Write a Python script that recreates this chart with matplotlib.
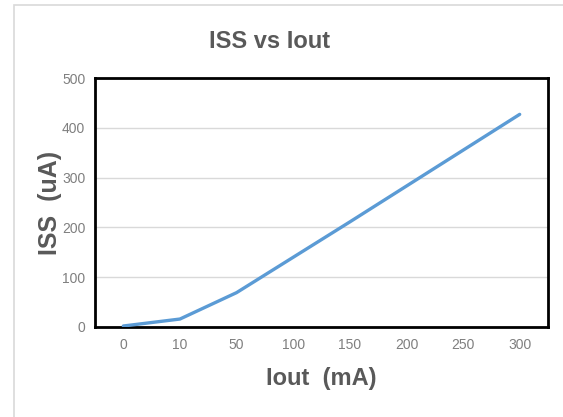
import matplotlib.pyplot as plt
from matplotlib.patches import Rectangle

# data
iout_labels = ['0', '10', '50', '100', '150', '200', '250', '300']
iss_values = [2, 16, 69, 140, 211, 283, 355, 427]
y_ticks = [0, 100, 200, 300, 400, 500]

plt.rcParams['font.family'] = ['Liberation Sans Narrow', 'Liberation Sans', 'DejaVu Sans']

fig = plt.figure(figsize=(5.63, 4.17), dpi=100)
fig.patch.set_facecolor('white')

# light gray outer chart border
fig.patches.append(Rectangle((14 / 563, -0.05), 1.0, 1.0 - 5 / 417 + 0.05,
                             transform=fig.transFigure, fill=False,
                             edgecolor='#d9d9d9', linewidth=1.2))

ax = fig.add_axes([95 / 563, 90 / 417, 453 / 563, 249 / 417])

x = range(len(iout_labels))
ax.plot(x, iss_values, color='#5b9bd5', linewidth=2.4, solid_capstyle='round', zorder=3)

ax.set_xlim(-0.5, len(iout_labels) - 0.5)
ax.set_ylim(0, 500)
ax.set_xticks(list(x))
ax.set_xticklabels(iout_labels)
ax.set_yticks(y_ticks)
ax.grid(axis='y', color='#d9d9d9', linewidth=1.0)
ax.set_axisbelow(True)
ax.tick_params(length=0, labelsize=10, labelcolor='#7f7f7f', pad=8)
ax.tick_params(axis='y', pad=7)

for s in ax.spines.values():
    s.set_color('black')
    s.set_linewidth(2.0)

ax.set_xlabel('Iout  (mA)', fontsize=17, fontweight='bold', color='#595959',
              family=['Liberation Sans', 'DejaVu Sans'], labelpad=11)
ax.set_ylabel('ISS  (uA)', fontsize=18, fontweight='bold', color='#595959',
              family=['Liberation Sans', 'DejaVu Sans'], labelpad=0)
fig.text(270 / 563, 1 - 41 / 417, 'ISS vs Iout', ha='center', va='center', fontsize=17,
         fontweight='bold', color='#595959', family=['Liberation Sans', 'DejaVu Sans'])

fig.savefig('out.png', dpi=100)
